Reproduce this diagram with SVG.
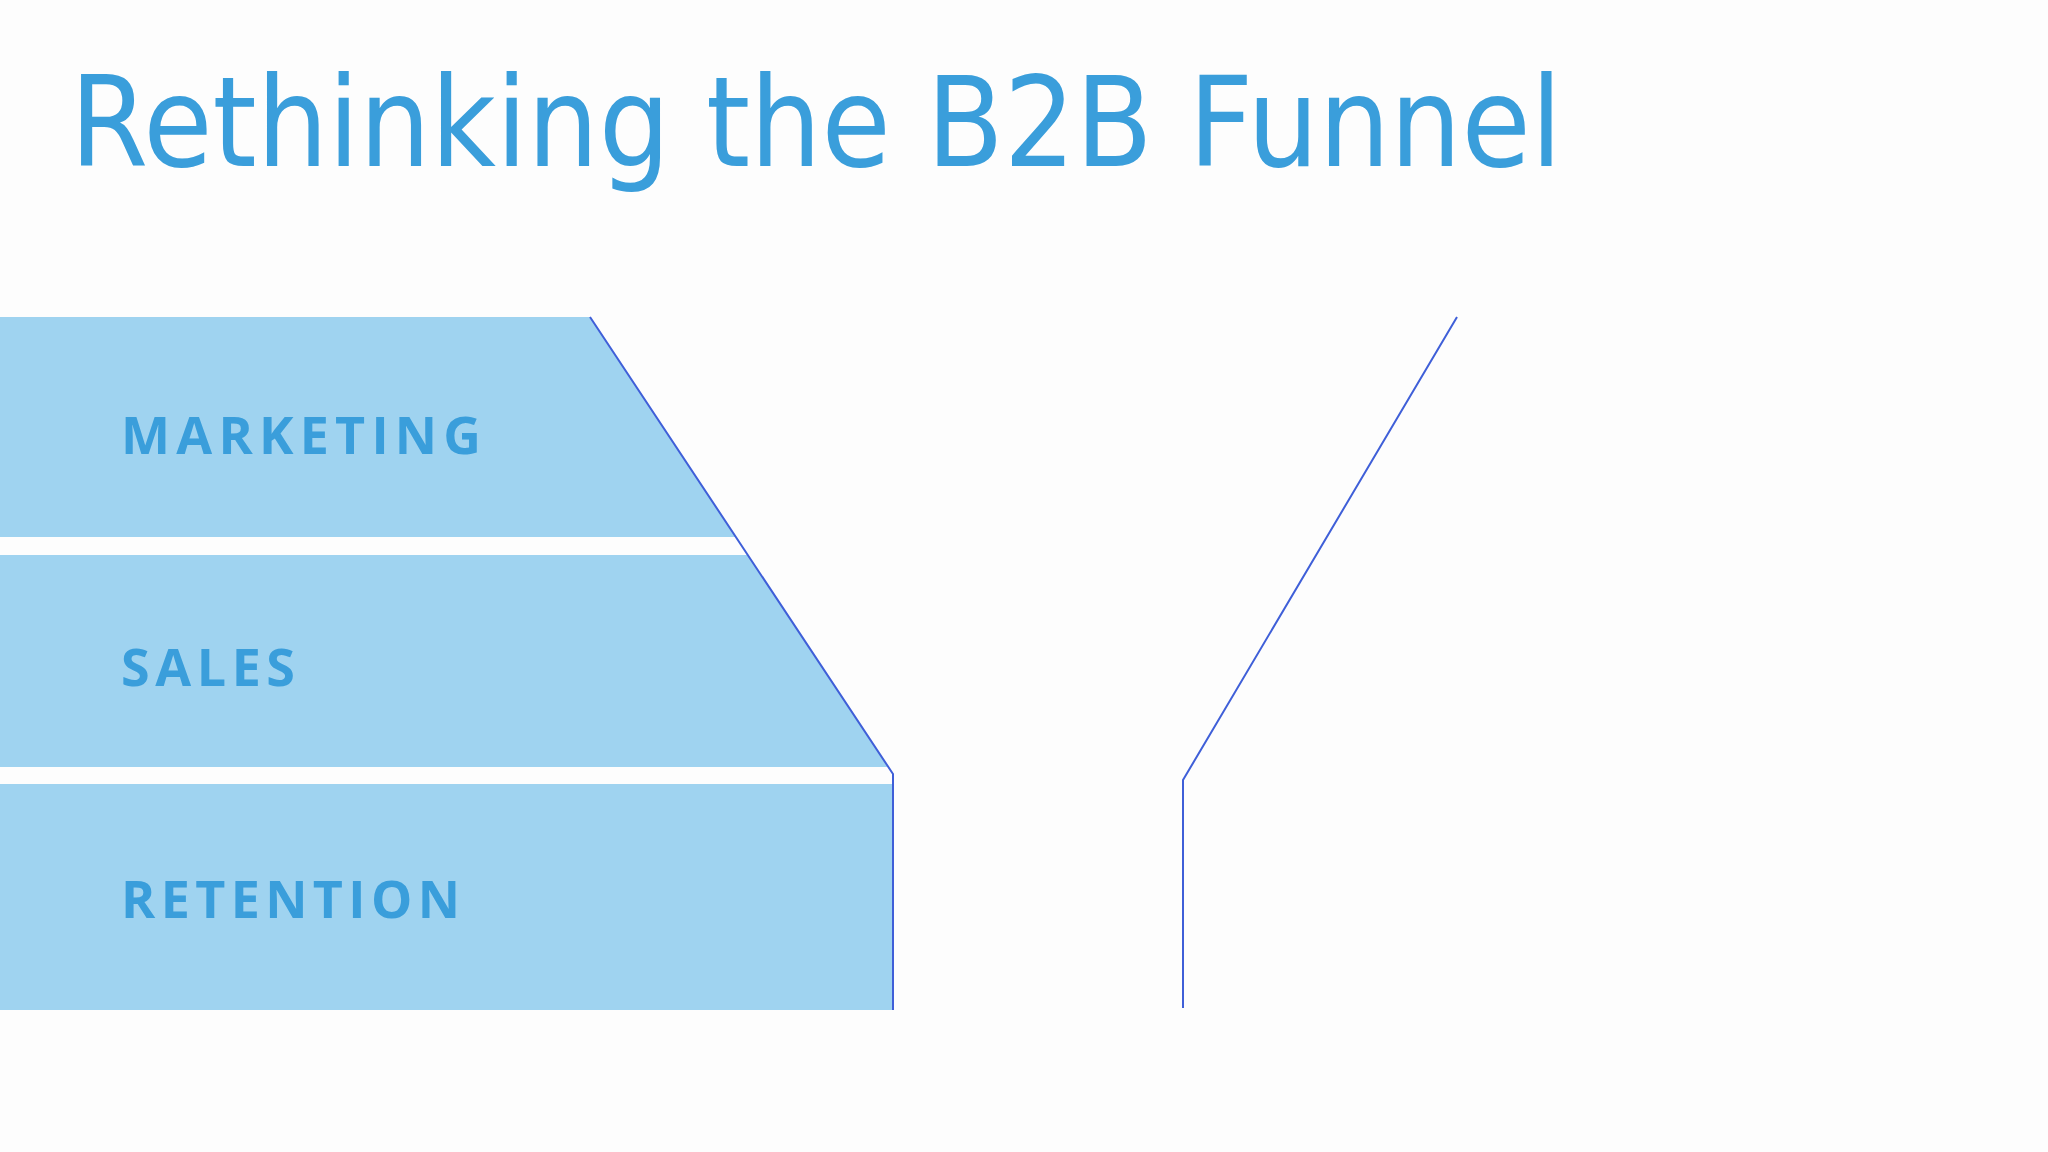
<svg xmlns="http://www.w3.org/2000/svg" width="2048" height="1152" viewBox="0 0 2048 1152">
<style>
.band{fill:#9FD3F0}
.lbl{font-family:"Open Sans","DejaVu Sans",sans-serif;font-weight:bold;font-size:52px;fill:#3A9EDB}
.edge{fill:none;stroke:#3F5FD8;stroke-width:2}
</style>
<rect width="2048" height="1152" fill="#FDFDFD"/>
<text x="70" y="166" font-family="'URW Gothic','DejaVu Sans','Liberation Sans',sans-serif" font-size="124" fill="#3A9EDB" textLength="1492" lengthAdjust="spacingAndGlyphs">Rethinking the B2B Funnel</text>
<g id="marketing"><polygon class="band" points="0,317 590,317 736,537 0,537"/><text class="lbl" x="121" y="454" textLength="360" lengthAdjust="spacing">MARKETING</text></g>
<g id="sales"><polygon class="band" points="0,555 748,555 888,767 0,767"/><text class="lbl" x="121" y="686" textLength="174" lengthAdjust="spacing">SALES</text></g>
<g id="retention"><rect class="band" x="0" y="784" width="893" height="226"/><text class="lbl" x="121" y="918" textLength="339" lengthAdjust="spacing">RETENTION</text></g>
<g id="connectors">
<polyline class="edge" points="590,317 893,774 893,1010" stroke-width="1.5"/>
<polyline class="edge" points="1457,317 1183,780 1183,1008"/>
</g>
</svg>
